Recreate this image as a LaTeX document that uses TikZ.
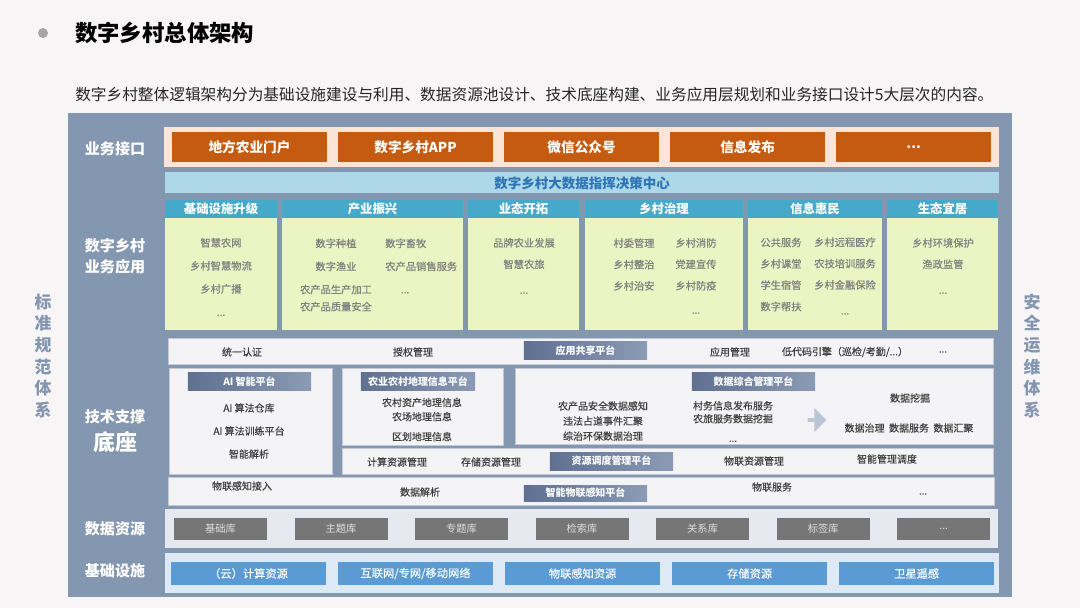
\documentclass[tikz,border=0pt]{standalone}
\usepackage{fontspec}
\setmainfont{Noto Sans CJK SC}
\newfontfamily\midfont[FakeBold=0.45]{Noto Sans CJK SC}
\usepackage{tikz}
\usetikzlibrary{positioning, shapes.arrows}
\definecolor{pagebg}{HTML}{F7F5F5}
\definecolor{panelslate}{HTML}{8497B0}
\definecolor{portalorange}{HTML}{C55A11}
\definecolor{portalpink}{HTML}{FCE4D6}
\definecolor{bannerblue}{HTML}{AED8E8}
\definecolor{bannertext}{HTML}{2E75B6}
\definecolor{headteal}{HTML}{47A9C9}
\definecolor{bodylime}{HTML}{EBF5C4}
\definecolor{itemgray}{HTML}{808080}
\definecolor{techwhite}{HTML}{F4F4F6}
\definecolor{techline}{HTML}{C3CAD6}
\definecolor{techtext}{HTML}{404040}
\definecolor{platdark}{HTML}{5F7091}
\definecolor{platlight}{HTML}{8C9BB5}
\definecolor{arrowgray}{HTML}{BAC5D6}
\definecolor{dbbg}{HTML}{E6EAF0}
\definecolor{dbgray}{HTML}{767676}
\definecolor{infrabg}{HTML}{DDEAF6}
\definecolor{infrablue}{HTML}{5B9BD5}
\definecolor{sideblue}{HTML}{8496B0}

\begin{document}
\begin{tikzpicture}[
        x=0.025cm, y=-0.025cm,
        node distance=0.275cm,
        lbl/.style={text=white, align=center, inner sep=0pt, font=\bfseries\fontsize{10.7}{15}\selectfont},
        portal/.style={rectangle, fill=portalorange, minimum width=3.875cm, minimum height=0.75cm, inner sep=0pt, outer sep=0pt, text=white, font=\bfseries\fontsize{9.7}{12}\selectfont},
        colhead/.style={rectangle, fill=headteal, minimum height=0.45cm, inner sep=0pt, outer sep=0pt, text=white, font=\bfseries\fontsize{8.8}{10}\selectfont},
        colbody/.style={rectangle, fill=bodylime, minimum height=2.8cm, inner sep=0pt, outer sep=0pt},
        item/.style={text=itemgray, align=center, inner sep=0pt, font=\midfont\fontsize{7.3}{15.2}\selectfont},
        techrow/.style={rectangle, fill=techwhite, draw=techline, inner sep=0pt, outer sep=0pt},
        platform/.style={rectangle, left color=platdark, right color=platlight, minimum width=3.075cm, minimum height=0.45cm, inner sep=0pt, text=white, font=\bfseries\fontsize{7.1}{9}\selectfont},
        tech/.style={text=techtext, align=center, inner sep=0pt, font=\midfont\fontsize{7.1}{10.7}\selectfont},
        dbbox/.style={rectangle, fill=dbgray, minimum width=2.325cm, minimum height=0.55cm, inner sep=0pt, outer sep=0pt, text=white!88!black, font=\fontsize{7.3}{9}\selectfont},
        infrabox/.style={rectangle, fill=infrablue, minimum width=3.875cm, minimum height=0.575cm, inner sep=0pt, outer sep=0pt, text=white!94!infrablue, font=\midfont\fontsize{8}{10}\selectfont},
        side/.style={text=sideblue, align=center, inner sep=0pt, font=\bfseries\fontsize{12}{15.4}\selectfont}
    ]
        \useasboundingbox [fill=pagebg] (0,0) rectangle (1080,608);

        % heading
        \fill [black!35] (43,33) circle (5);
        \node [anchor=west, inner sep=0pt, font=\bfseries\fontsize{15.9}{18}\selectfont] (title) at (75,33) {数字乡村总体架构};
        \node [anchor=west, inner sep=0pt, text=black!85, font=\fontsize{11.15}{14}\selectfont] (intro) at (75,95) {数字乡村整体逻辑架构分为基础设施建设与利用、数据资源池设计、技术底座构建、业务应用层规划和业务接口设计5大层次的内容。};

        % panel and side systems
        \fill [panelslate] (68,113) rectangle (1012,597);
        \node [side] (norm) at (43,356) {标\\准\\规\\范\\体\\系};
        \node [side] (secure) at (1032,356) {安\\全\\运\\维\\体\\系};

        % layer labels
        \node [lbl] (lapi) at (115,149) {业务接口};
        \node [lbl] (lapp) at (115,256) {数字乡村\\业务应用};
        \node [lbl] (ltech) at (115,417) {技术支撑};
        \node [lbl, font=\bfseries\fontsize{15.6}{18}\selectfont] (lbase) at (115,442) {底座};
        \node [lbl] (ldata) at (115,529) {数据资源};
        \node [lbl] (linfra) at (115,571) {基础设施};

        % business interface
        \fill [portalpink] (164,127) rectangle (999,167);
        \node [portal] (farm) at (249.5,147) {地方农业门户};
        \node [portal, right=of farm] (app) {数字乡村APP};
        \node [portal, right=of app] (wechat) {微信公众号};
        \node [portal, right=of wechat] (publish) {信息发布};
        \node [portal, right=of publish] (more) {...};

        % command centre
        \fill [bannerblue] (165,172) rectangle (999,193);
        \node [text=bannertext, font=\bfseries\fontsize{9.6}{12}\selectfont] (center) at (582,183) {数字乡村大数据指挥决策中心};

        % application columns
        \node [colhead, minimum width=2.8cm] (hinfra) at (221,209) {基础设施升级};
        \node [colbody, minimum width=2.8cm] (binfra) at (221,274) {};
        \node [colhead, minimum width=4.525cm] (hind) at (372.5,209) {产业振兴};
        \node [colbody, minimum width=4.525cm] (bind) at (372.5,274) {};
        \node [colhead, minimum width=2.775cm] (hbiz) at (523.5,209) {业态开拓};
        \node [colbody, minimum width=2.775cm] (bbiz) at (523.5,274) {};
        \node [colhead, minimum width=3.95cm] (hgov) at (664,209) {乡村治理};
        \node [colbody, minimum width=3.95cm] (bgov) at (664,274) {};
        \node [colhead, minimum width=3.35cm] (hinfo) at (815,209) {信息惠民};
        \node [colbody, minimum width=3.35cm] (binfo) at (815,274) {};
        \node [colhead, minimum width=2.775cm] (heco) at (942.5,209) {生态宜居};
        \node [colbody, minimum width=2.775cm] (beco) at (942.5,274) {};

        \node [item] (iinfra) at (221,277) {智慧农网\\[1.2pt]乡村智慧物流\\[1.2pt]乡村广播\\[1.2pt]...};
        \node [item] (iinda) at (336,275) {数字种植\\[1.2pt]数字渔业\\[1.2pt]农产品生产加工\\[-3pt]农产品质量安全};
        \node [item, anchor=west, align=left] (iindb) at (385,266) {数字畜牧\\[1.2pt]农产品销售服务\\[1.2pt]\hspace{11pt}...};
        \node [item] (ibiz) at (524,266) {品牌农业发展\\智慧农旅\\[3pt]...};
        \node [item] (igova) at (634,264.5) {村委管理\\乡村整治\\乡村治安};
        \node [item] (igovb) at (696,276) {乡村消防\\党建宣传\\乡村防疫\\[2pt]...};
        \node [item] (iinfoa) at (781,274.5) {公共服务\\乡村课堂\\学生宿管\\数字帮扶};
        \node [item] (iinfob) at (845,276) {乡村远程医疗\\农技培训服务\\乡村金融保险\\[3pt]...};
        \node [item] (ieco) at (943,266) {乡村环境保护\\渔政监管\\[3pt]...};

        % technical base
        \node [techrow, minimum width=20.625cm, minimum height=0.65cm] (rowa) at (580.5,351) {};
        \node [techrow, minimum width=4.075cm, minimum height=2.65cm] (aibox) at (250.5,421) {};
        \node [techrow, minimum width=4.025cm, minimum height=1.925cm] (geobox) at (422.5,406.5) {};
        \node [techrow, minimum width=11.95cm, minimum height=1.9cm] (databox) at (754,406) {};
        \node [techrow, minimum width=16.275cm, minimum height=0.65cm] (rowc) at (667.5,461) {};
        \node [techrow, minimum width=20.65cm, minimum height=0.7cm] (rowd) at (581,491) {};

        \node [tech] (auth) at (242,352) {统一认证};
        \node [tech] (grant) at (413,352) {授权管理};
        \node [platform] (share) at (585.5,350.5) {应用共享平台};
        \node [tech] (appmgr) at (730,352) {应用管理};
        \node [tech] (lowcode) at (845,352) {低代码引擎（巡检/考勤/...）};
        \node [tech] (rowamore) at (943,352) {...};

        \node [platform] (aiplat) at (249.5,381.5) {AI 智能平台};
        \node [tech, font=\midfont\fontsize{7.1}{16.4}\selectfont] (aiitems) at (249,431) {AI 算法仓库\\AI 算法训练平台\\智能解析};

        \node [platform, minimum width=2.85cm] (geoplat) at (418,381.5) {农业农村地理信息平台};
        \node [tech] (geoitems) at (422,419.5) {农村资产地理信息\\[-0.6pt]农场地理信息\\[3.5pt]区划地理信息};

        \node [platform] (dataplat) at (753.5,381.5) {数据综合管理平台};
        \node [tech] (datasrc) at (603,421) {农产品安全数据感知\\违法占道事件汇聚\\综治环保数据治理};
        \node [tech] (datasvc) at (733,421.5) {村务信息发布服务\\[-1.5pt]农旅服务数据挖掘\\[3pt]...};
        \node [single arrow, fill=arrowgray, minimum height=0.47cm, minimum width=0.6cm, single arrow head extend=0.04cm, inner sep=0pt] (flow) at (816,420) {};
        \node [tech] (mining) at (910,398) {数据挖掘};
        \node [tech] (govern) at (909,428) {数据治理\ \ 数据服务\ \ 数据汇聚};

        \node [tech] (compute) at (397,462) {计算资源管理};
        \node [tech] (storage) at (491,462) {存储资源管理};
        \node [platform] (sched) at (611.5,461) {资源调度管理平台};
        \node [tech] (iotres) at (754,461) {物联资源管理};
        \node [tech] (smart) at (887,459) {智能管理调度};

        \node [tech] (iotin) at (242,486) {物联感知接入};
        \node [tech] (parse) at (420,492) {数据解析};
        \node [platform, minimum height=0.4cm] (iotplat) at (585.5,493) {智能物联感知平台};
        \node [tech] (iotsvc) at (772,487) {物联服务};
        \node [tech] (rowdmore) at (923,494) {...};

        % data resources
        \fill [dbbg] (165,509) rectangle (998,548);
        \node [dbbox] (basic) at (220.5,529) {基础库};
        \node [dbbox, right=0.6875cm of basic] (topic) {主题库};
        \node [dbbox, right=0.6875cm of topic] (special) {专题库};
        \node [dbbox, right=0.6875cm of special] (search) {检索库};
        \node [dbbox, right=0.6875cm of search] (relation) {关系库};
        \node [dbbox, right=0.6875cm of relation] (tags) {标签库};
        \node [dbbox, right=0.6875cm of tags] (dbmore) {...};

        % infrastructure
        \fill [infrabg] (165,553) rectangle (999,593);
        \node [infrabox] (cloud) at (248.5,573.5) {（云）计算资源};
        \node [infrabox, right=0.3cm of cloud] (network) {互联网/专网/移动网络};
        \node [infrabox, right=0.3cm of network] (sensing) {物联感知资源};
        \node [infrabox, right=0.3cm of sensing] (store) {存储资源};
        \node [infrabox, right=0.3cm of store] (satellite) {卫星遥感};
    \end{tikzpicture}
\end{document}
